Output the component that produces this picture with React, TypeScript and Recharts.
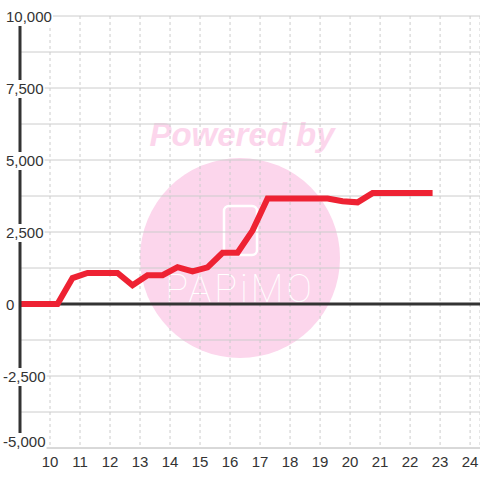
import React from 'react';
import {
  LineChart,
  Line,
  XAxis,
  YAxis,
  CartesianGrid,
  ReferenceLine,
} from 'recharts';

// hour of day -> cumulative value
const hours = [9, 10.25, 10.75, 11.25, 12.25, 12.75, 13.25, 13.75, 14.25, 14.75, 15.25, 15.75, 16.25, 16.75, 17.25, 19.25, 19.75, 20.25, 20.75, 22.75];
const values = [0, 0, 900, 1080, 1080, 650, 1000, 1000, 1280, 1130, 1270, 1780, 1780, 2550, 3660, 3660, 3570, 3530, 3850, 3850];

const xTicks = [10, 11, 12, 13, 14, 15, 16, 17, 18, 19, 20, 21, 22, 23, 24];
const yTicks = [-5000, -3750, -2500, -1250, 0, 1250, 2500, 3750, 5000, 6250, 7500, 8750, 10000];
const yLabelStep = 2500;

const data = hours.map((h, i) => ({ hour: h, value: values[i] }));

const FONT = '"Liberation Sans", Arial, sans-serif';

const textWidth = (s: string) =>
  s.split('').reduce((w, c) => w + (c === ',' ? 4.2 : c === '-' ? 5 : 8.34), 0);

const YTick = (props: any) => {
  const { y, payload } = props;
  const v = payload.value;
  if (v % yLabelStep !== 0) return <g />;
  const label = v.toLocaleString('en-US');
  const w = textWidth(label);
  const shift = v === yTicks[0] ? -6 : 1;
  const x0 = v < 0 ? 3 : 6;
  return (
    <g>
      <rect x={x0 - 1} y={y + shift - 9} width={w + 2} height={18} fill="#fff" />
      <text
        x={x0}
        y={y + shift}
        dy="0.35em"
        textAnchor="start"
        fontSize={15}
        fontFamily={FONT}
        fill="#333"
      >
        {label}
      </text>
    </g>
  );
};

const Watermark = () => (
  <svg width={480} height={480} style={{ position: 'absolute', left: 0, top: 0 }}>
    <text
      x={242}
      y={146}
      textAnchor="middle"
      fontSize={33}
      fontWeight="bold"
      fontStyle="italic"
      fontFamily={FONT}
      fill="#fcd6ec"
    >
      Powered by
    </text>
    <circle cx={240} cy={258} r={100} fill="#fcd6ec" />
    <rect x={224} y={206} width={33} height={49} rx={5} fill="none" stroke="#fff" strokeWidth={2.5} />
    <text
      x={240}
      y={302}
      textAnchor="middle"
      fontSize={38}
      fontWeight={100}
      fontFamily="Roboto, sans-serif"
      fill="#fff"
      letterSpacing={3}
    >
      PAPiMO
    </text>
  </svg>
);

export default function App() {
  return (
    <div style={{ position: 'absolute', left: 0, top: 0, width: 480, height: 480, background: '#fff' }}>
      <Watermark />
      <div style={{ position: 'absolute', left: 0, top: 0 }}>
        <LineChart
          width={480}
          height={480}
          data={data}
          margin={{ top: 16, right: 0, bottom: 0, left: 19 }}
        >
          <CartesianGrid vertical={false} stroke="#cccccc" />
          <CartesianGrid horizontal={false} stroke="#cccccc" strokeDasharray="3 3" />
          <XAxis
            dataKey="hour"
            type="number"
            domain={[9, 24.33]}
            ticks={xTicks}
            allowDataOverflow
            height={32}
            axisLine={{ stroke: '#cccccc' }}
            tickLine={false}
            tickMargin={2}
            tick={{ fontSize: 15, fill: '#333', fontFamily: FONT }}
          />
          <YAxis
            width={1}
            domain={[-5000, 10000]}
            ticks={yTicks}
            interval={0}
            axisLine={{ stroke: '#333', strokeWidth: 3 }}
            tickLine={false}
            tick={<YTick />}
          />
          <ReferenceLine y={0} stroke="#333" strokeWidth={3} />
          <Line
            type="linear"
            dataKey="value"
            stroke="#ee2233"
            strokeWidth={6}
            dot={false}
            activeDot={false}
            isAnimationActive={false}
          />
        </LineChart>
      </div>
    </div>
  );
}
